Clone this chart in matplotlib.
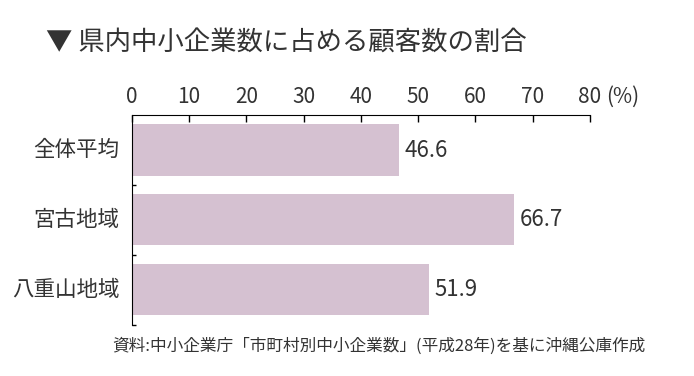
import matplotlib
matplotlib.use("Agg")
import matplotlib.pyplot as plt

plt.rcParams['font.family'] = ['Noto Sans CJK JP', 'DejaVu Sans']

categories = ['全体平均', '宮古地域', '八重山地域']
values = [46.6, 66.7, 51.9]
xticks = [0, 10, 20, 30, 40, 50, 60, 70, 80]
title = '▼ 県内中小企業数に占める顧客数の割合'
source = '資料:中小企業庁「市町村別中小企業数」(平成28年)を基に沖縄公庫作成'

text_color = '#333333'
bar_color = '#d5c1d1'

fig = plt.figure(figsize=(6.94, 3.76), dpi=100)
ax = fig.add_axes([0.190, 0.136, 0.660, 0.558])

pos = list(range(len(categories)))
ax.barh(pos, values, height=0.73, color=bar_color, zorder=2)
for p, v in zip(pos, values):
    ax.text(v + 1.0, p, f'{v:.1f}', va='center', ha='left',
            fontsize=16, color=text_color)

ax.set_xlim(0, 80)
ax.set_ylim(2.5, -0.5)
ax.xaxis.tick_top()
ax.set_xticks(xticks)
ax.set_xticklabels([str(t) for t in xticks], fontsize=15, color=text_color)
ax.tick_params(axis='x', direction='in', length=5, width=1, pad=5)
ax.set_yticks([0.5, 1.5, 2.5])
ax.set_yticklabels([])
ax.tick_params(axis='y', direction='in', length=3, width=1)
ax.spines['right'].set_visible(False)
ax.spines['bottom'].set_visible(False)

for p, c in zip(pos, categories):
    ax.text(-2.2, p, c, ha='right', va='center', fontsize=15.5, color=text_color)

ax.annotate('(%)', xy=(80, -0.5), xytext=(12, 5), textcoords='offset points',
            ha='left', va='bottom', fontsize=15, color=text_color)

fig.text(0.067, 0.885, title, fontsize=19, color=text_color, ha='left', va='center')
fig.text(0.93, 0.08, source, fontsize=12, color=text_color, ha='right', va='center')

fig.savefig('out.png', dpi=100)
